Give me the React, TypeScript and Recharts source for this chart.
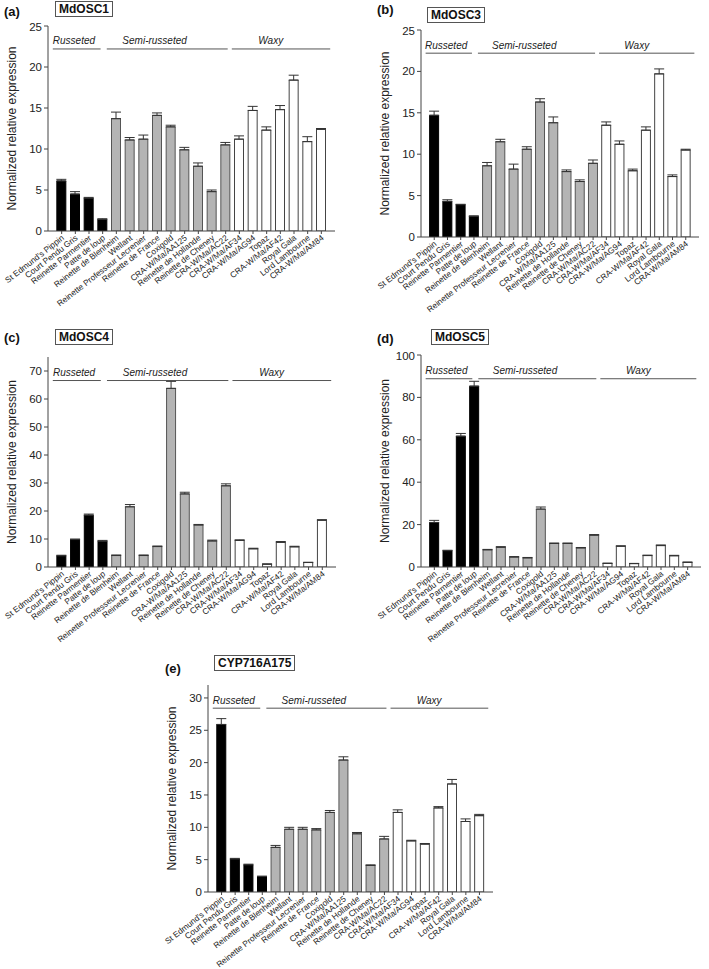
import React from 'react'
import {
  BarChart,
  Bar,
  Cell,
  XAxis,
  YAxis,
  ErrorBar,
  ReferenceLine,
  ReferenceDot,
} from 'recharts'

// apple cultivars, in the order of the x axis
const CULTIVARS = [
  "St Edmund's Pippin",
  'Court Pendu Gris',
  'Reinette Parmentier',
  'Patte de loup',
  'Reinette de Blenheim',
  'Wellant',
  'Reinette Professeur Lecrenier',
  'Reinette de France',
  'Coxigold',
  'CRA-W/Ma/AA125',
  'Reinette de Hollande',
  'Reinette de Cheney',
  'CRA-W/Ma/AC22',
  'CRA-W/Ma/AF34',
  'CRA-W/Ma/AG94',
  'Topaz',
  'CRA-W/Ma/AF42',
  'Royal Gala',
  'Lord Lambourne',
  'CRA-W/Ma/AM84',
]

// 0 = russeted, 1 = semi-russeted, 2 = waxy
const GROUPS = ['Russeted', 'Semi-russeted', 'Waxy']
const GROUP_OF = [0, 0, 0, 0, 1, 1, 1, 1, 1, 1, 1, 1, 1, 2, 2, 2, 2, 2, 2, 2]

// expression values (mean) and standard errors
const MDOSC1 = [6.1, 4.5, 4.0, 1.4, 13.7, 11.1, 11.2, 14.1, 12.7, 9.9, 7.9, 4.8, 10.5, 11.2, 14.7, 12.3, 14.8, 18.4, 10.9, 12.4]
const MDOSC1_SE = [0.2, 0.3, 0.1, 0.1, 0.8, 0.3, 0.5, 0.3, 0.2, 0.3, 0.4, 0.2, 0.3, 0.4, 0.5, 0.4, 0.5, 0.6, 0.6, 0.1]

const MDOSC3 = [14.7, 4.3, 3.9, 2.5, 8.6, 11.5, 8.2, 10.6, 16.3, 13.8, 7.9, 6.7, 8.9, 13.5, 11.2, 8.0, 12.9, 19.7, 7.3, 10.5]
const MDOSC3_SE = [0.5, 0.2, 0.05, 0.05, 0.4, 0.3, 0.6, 0.3, 0.4, 0.7, 0.2, 0.2, 0.4, 0.4, 0.4, 0.2, 0.4, 0.6, 0.2, 0.1]

const MDOSC4 = [4.0, 9.8, 18.5, 9.2, 4.1, 21.5, 4.1, 7.3, 63.8, 26.1, 15.0, 9.3, 29.0, 9.5, 6.5, 1.0, 8.8, 7.2, 1.6, 16.7]
const MDOSC4_SE = [0.2, 0.2, 0.4, 0.3, 0.2, 0.8, 0.2, 0.2, 2.5, 0.6, 0.2, 0.3, 0.7, 0.2, 0.2, 0.1, 0.3, 0.2, 0.1, 0.2]

const MDOSC5 = [21.0, 7.7, 61.7, 85.3, 8.1, 9.3, 4.7, 4.3, 27.3, 11.1, 11.1, 9.0, 15.0, 1.7, 9.8, 1.6, 5.4, 10.1, 5.3, 2.2]
const MDOSC5_SE = [1.0, 0.2, 1.3, 2.3, 0.2, 0.3, 0.2, 0.2, 1.0, 0.2, 0.2, 0.2, 0.3, 0.1, 0.2, 0.1, 0.2, 0.3, 0.2, 0.1]

const CYP716 = [25.9, 5.1, 4.2, 2.4, 6.9, 9.7, 9.7, 9.6, 12.3, 20.4, 9.0, 4.1, 8.2, 12.3, 7.9, 7.4, 13.0, 16.7, 10.9, 11.8]
const CYP716_SE = [0.9, 0.1, 0.1, 0.05, 0.3, 0.3, 0.3, 0.2, 0.3, 0.5, 0.2, 0.1, 0.4, 0.4, 0.1, 0.1, 0.2, 0.7, 0.4, 0.2]

const TICKS_25 = [0, 5, 10, 15, 20, 25]
const TICKS_70 = [0, 10, 20, 30, 40, 50, 60, 70]
const TICKS_100 = [0, 20, 40, 60, 80, 100]
const TICKS_30 = [0, 5, 10, 15, 20, 25, 30]

// ─── styling ────────────────────────────────────────────────────────────────

const FONT = '"Liberation Sans", Arial, sans-serif'
const FILLS = ['#000000', '#b4b4b4', '#ffffff']
const STROKES = ['#000000', '#555555', '#444444']
const AXIS = '#444444'
const TEXT = '#222222'

// group brackets in x units (bars sit at 1..20, axis runs 0..21)
const BRACKETS = [
  [0.35, 3.85],
  [4.3, 13.15],
  [13.45, 20.65],
]
const BRACKET_TEXT_X = [1.9, 7.8, 16.3]

const Y_AXIS_W = 48
const TOP = 5
const RIGHT = 5
const X_AXIS_H = 90

function XTick(props: any) {
  const { x, y, payload } = props
  const tx = x + 3
  const ty = y + 3
  return (
    <text
      x={tx}
      y={ty}
      textAnchor="end"
      fontSize={8.3}
      fill={TEXT}
      fontFamily={FONT}
      transform={`rotate(-38 ${tx} ${ty})`}
    >
      {CULTIVARS[payload.value - 1]}
    </text>
  )
}

interface PanelProps {
  tag: string
  gene: string
  values: number[]
  errors: number[]
  max: number
  ticks: number[]
  // plot area on the page
  x0: number
  x1: number
  y0: number
  y1: number
  tagAt: [number, number]
  boxAt: [number, number]
}

function Panel(p: PanelProps) {
  const data = p.values.map((v, k) => ({
    i: k + 1,
    v,
    err: [0, p.errors[k]],
    g: GROUP_OF[k],
  }))
  const plotW = p.x1 - p.x0
  const plotH = p.y1 - p.y0
  const lineY = p.max * 0.888
  const textY = p.max * 0.927

  return (
    <>
      <div
        style={{
          position: 'absolute',
          left: p.tagAt[0],
          top: p.tagAt[1],
          fontFamily: FONT,
          fontWeight: 700,
          fontSize: 13,
          lineHeight: '13px',
          color: '#111',
        }}
      >
        {p.tag}
      </div>
      <div
        style={{
          position: 'absolute',
          left: p.boxAt[0],
          top: p.boxAt[1],
          fontFamily: FONT,
          fontWeight: 700,
          fontSize: 12,
          lineHeight: '12px',
          padding: '1px 3px',
          border: '1px solid #555',
          color: '#111',
        }}
      >
        {p.gene}
      </div>
      <div style={{ position: 'absolute', left: p.x0 - Y_AXIS_W, top: p.y0 - TOP }}>
        <BarChart
          width={Y_AXIS_W + plotW + RIGHT}
          height={TOP + plotH + X_AXIS_H}
          data={data}
          margin={{ top: TOP, right: RIGHT, left: 0, bottom: 0 }}
        >
          <XAxis
            type="number"
            dataKey="i"
            domain={[0, 21]}
            ticks={data.map(d => d.i)}
            interval={0}
            height={X_AXIS_H}
            tick={<XTick />}
            tickSize={3}
            stroke={AXIS}
            axisLine={{ stroke: AXIS }}
            tickLine={{ stroke: AXIS }}
          />
          <YAxis
            type="number"
            domain={[0, p.max]}
            ticks={p.ticks}
            width={Y_AXIS_W}
            tickSize={4}
            tickMargin={2}
            tick={{ fill: TEXT, fontSize: 11.5, fontFamily: FONT }}
            axisLine={{ stroke: AXIS }}
            tickLine={{ stroke: AXIS }}
            allowDataOverflow
            label={{
              value: 'Normalized relative expression',
              angle: -90,
              position: 'insideLeft',
              offset: 12,
              style: { textAnchor: 'middle', fill: '#222', fontSize: 12, fontFamily: FONT },
            }}
          />
          {BRACKETS.map((b, k) => (
            <ReferenceLine
              key={GROUPS[k]}
              segment={[
                { x: b[0], y: lineY },
                { x: b[1], y: lineY },
              ]}
              stroke="#555"
              strokeWidth={1}
              ifOverflow="visible"
            />
          ))}
          {GROUPS.map((name, k) => (
            <ReferenceDot
              key={name}
              x={BRACKET_TEXT_X[k]}
              y={textY}
              r={0}
              ifOverflow="visible"
              shape={(s: any) => (
                <text
                  x={s.cx}
                  y={s.cy}
                  textAnchor="middle"
                  dominantBaseline="central"
                  fontSize={10}
                  fontStyle="italic"
                  fill="#222"
                  fontFamily={FONT}
                >
                  {name}
                </text>
              )}
            />
          ))}
          <Bar dataKey="v" barSize={9} isAnimationActive={false} strokeWidth={1}>
            {data.map(d => (
              <Cell key={d.i} fill={FILLS[d.g]} stroke={STROKES[d.g]} />
            ))}
            <ErrorBar dataKey="err" direction="y" width={5} stroke="#333" strokeWidth={1} />
          </Bar>
        </BarChart>
      </div>
    </>
  )
}

export default function App() {
  return (
    <div
      style={{
        position: 'absolute',
        left: 0,
        top: 0,
        width: 709,
        height: 969,
        background: '#fff',
        overflow: 'hidden',
      }}
    >
      <Panel
        tag="(a)"
        gene="MdOSC1"
        values={MDOSC1}
        errors={MDOSC1_SE}
        max={25}
        ticks={TICKS_25}
        x0={48}
        x1={335}
        y0={26}
        y1={231}
        tagAt={[4, 5]}
        boxAt={[55, 1]}
      />
      <Panel
        tag="(b)"
        gene="MdOSC3"
        values={MDOSC3}
        errors={MDOSC3_SE}
        max={25}
        ticks={TICKS_25}
        x0={421}
        x1={699}
        y0={30}
        y1={237}
        tagAt={[377, 3]}
        boxAt={[427, 7]}
      />
      <Panel
        tag="(c)"
        gene="MdOSC4"
        values={MDOSC4}
        errors={MDOSC4_SE}
        max={75}
        ticks={TICKS_70}
        x0={48}
        x1={336}
        y0={357}
        y1={567}
        tagAt={[4, 331]}
        boxAt={[55, 329]}
      />
      <Panel
        tag="(d)"
        gene="MdOSC5"
        values={MDOSC5}
        errors={MDOSC5_SE}
        max={100}
        ticks={TICKS_100}
        x0={421}
        x1={701}
        y0={355}
        y1={567}
        tagAt={[377, 332]}
        boxAt={[431, 329]}
      />
      <Panel
        tag="(e)"
        gene="CYP716A175"
        values={CYP716}
        errors={CYP716_SE}
        max={32}
        ticks={TICKS_30}
        x0={208}
        x1={493}
        y0={685}
        y1={892}
        tagAt={[165, 662]}
        boxAt={[214, 655]}
      />
    </div>
  )
}
